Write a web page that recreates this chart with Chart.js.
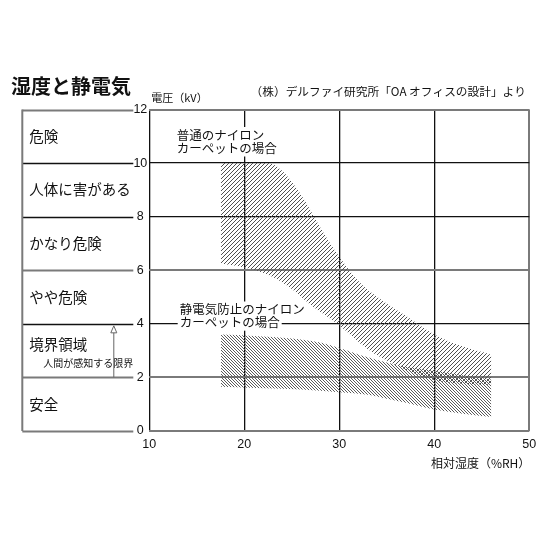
<!DOCTYPE html>
<html><head><meta charset="utf-8">
<script src="https://cdn.jsdelivr.net/npm/chart.js@4.4.1/dist/chart.umd.min.js"></script>
<style>html,body{margin:0;padding:0;background:#fff;}canvas{display:block;}</style>
</head><body>
<canvas id="c" width="553" height="553"></canvas>
<script>
// ---- data ----
const chartTitle = '湿度と静電気';
const sourceText = '（株）デルファイ研究所「OA オフィスの設計」より';
const yAxisTitle = '電圧（kV）';
const xAxisTitle = '相対湿度（%RH）';
const xTicks = [10, 20, 30, 40, 50];
const yTicks = [0, 2, 4, 6, 8, 10, 12];
const zoneBounds = [0, 2, 4, 6, 8, 10, 12];
const zoneLabels = ['安全', '境界領域', 'やや危険', 'かなり危険', '人体に害がある', '危険'];
const limitLabel = '人間が感知する限界';
const nylonLabel = ['普通のナイロン', 'カーペットの場合'];
const antiLabel = ['静電気防止のナイロン', 'カーペットの場合'];
// normal nylon band
const nylonTopX = [17.55, 22.5, 24, 26, 28, 30, 32, 34, 37, 40, 43, 46];
const nylonTopY = [10, 10, 9.7, 8.8, 7.6, 6.5, 5.6, 5.0, 4.3, 3.6, 3.15, 2.85];
const nylonBotX = [17.55, 20, 23, 25, 27, 30, 33, 36, 40, 43, 46];
const nylonBotY = [6.25, 6.1, 5.75, 5.3, 4.7, 3.95, 3.05, 2.45, 1.9, 1.76, 1.72];
// anti-static nylon band
const antiTopX = [17.55, 21, 25, 28, 30, 33, 37, 40, 43, 46];
const antiTopY = [3.6, 3.55, 3.45, 3.3, 3.1, 2.75, 2.4, 2.25, 2.08, 1.92];
const antiBotX = [17.55, 22, 26, 30, 33, 35, 37, 40, 43, 46];
const antiBotY = [1.65, 1.6, 1.55, 1.45, 1.35, 1.2, 1.05, 0.8, 0.64, 0.52];
const grayY = [0, 2, 6, 12];
const grayX = [50];

// ---- styles ----
const GRAY = '#7a7a7a', BLACK = '#111111';
const NUMFONT = '"Liberation Sans", Arial, "Noto Sans CJK JP", sans-serif';
const JPFONT = '"Noto Sans CJK JP", "Liberation Sans", sans-serif';

function makeHatch(n, dir, color) {
  const c = document.createElement('canvas');
  c.width = n; c.height = n;
  const g = c.getContext('2d');
  g.fillStyle = color;
  for (let i = 0; i < n; i++) {
    const y = dir === '/' ? n - 1 - i : i;
    g.fillRect(i, y, 1, 1);
  }
  return g.createPattern(c, 'repeat');
}
const patUp = makeHatch(4, '/', '#505050');
const patDown = makeHatch(3, '\\', '#5a5a5a');

const pts = (xs, ys) => xs.map((x, i) => ({ x, y: ys[i] }));
const band = (data, fill, bg) => ({
  data, fill, backgroundColor: bg, borderColor: 'rgba(0,0,0,0)', borderWidth: 0,
  pointRadius: 0, cubicInterpolationMode: 'monotone'
});

const decor = {
  id: 'decor',
  afterDraw(chart) {
    const g = chart.ctx, ys = chart.scales.y, xs = chart.scales.x, a = chart.chartArea;
    const panelL = a.left - 127, panelR = a.left - 16;
    g.save();
    // left panel lines
    yTicks.forEach(v => {
      const p = Math.round(ys.getPixelForValue(v)) + 0.5;
      const gray = grayY.includes(v);
      g.strokeStyle = gray ? GRAY : BLACK; g.lineWidth = gray ? 2 : 1.3;
      g.beginPath(); g.moveTo(panelL, p); g.lineTo(panelR, p); g.stroke();
    });
    g.strokeStyle = GRAY; g.lineWidth = 2;
    g.beginPath(); g.moveTo(panelL, ys.getPixelForValue(12)); g.lineTo(panelL, ys.getPixelForValue(0)); g.stroke();
    // zone labels
    g.fillStyle = BLACK; g.textBaseline = 'middle'; g.textAlign = 'left';
    g.font = '14.5px ' + JPFONT;
    zoneLabels.forEach((t, i) => {
      let y = ys.getPixelForValue((zoneBounds[i] + zoneBounds[i + 1]) / 2);
      if (i === 1) y -= 6;
      g.fillText(t, panelL + 7, y);
    });
    g.font = '10px ' + JPFONT;
    g.textAlign = 'right';
    g.fillText(limitLabel, panelR, ys.getPixelForValue(2) - 14);
    // arrow
    const ax = panelR - 19.5, ay0 = ys.getPixelForValue(2), ay1 = ys.getPixelForValue(4) + 2;
    g.strokeStyle = '#666'; g.lineWidth = 1;
    g.beginPath(); g.moveTo(ax, ay0); g.lineTo(ax, ay1 + 7); g.stroke();
    g.beginPath(); g.moveTo(ax, ay1); g.lineTo(ax - 3, ay1 + 7); g.lineTo(ax + 3, ay1 + 7); g.closePath();
    g.fillStyle = '#fff'; g.fill(); g.stroke();
    // titles
    g.fillStyle = BLACK; g.textAlign = 'left';
    g.font = 'bold 20px ' + JPFONT;
    g.fillText(chartTitle, 11, 86);
    g.font = '11px ' + JPFONT;
    g.fillText(yAxisTitle, a.left + 2, 98);
    g.font = '11.7px ' + JPFONT;
    g.textAlign = 'right';
    g.fillText(sourceText, 526, 92);
    g.font = '12px ' + JPFONT;
    g.fillText(xAxisTitle, a.right + 1, 463);
    // band annotations with white background
    const note = (lines, x, y0, dy) => {
      g.font = '12.5px ' + JPFONT; g.textAlign = 'left';
      lines.forEach((t, i) => {
        const w = g.measureText(t).width, y = y0 + i * dy;
        g.fillStyle = '#fff'; g.fillRect(x - 2, y - 8, w + 4, 16);
      });
      g.fillStyle = BLACK;
      lines.forEach((t, i) => g.fillText(t, x, y0 + i * dy));
    };
    note(nylonLabel, xs.getPixelForValue(12.9), 135, 13.5);
    note(antiLabel, xs.getPixelForValue(13.2), 309.5, 13.2);
    g.restore();
  }
};

new Chart(document.getElementById('c'), {
  type: 'line',
  data: {
    datasets: [
      band(pts(nylonTopX, nylonTopY), '+1', patUp),
      band(pts(nylonBotX, nylonBotY), false, 'transparent'),
      band(pts(antiTopX, antiTopY), '+1', patDown),
      band(pts(antiBotX, antiBotY), false, 'transparent')
    ]
  },
  options: {
    responsive: false, animation: false, devicePixelRatio: 1,
    layout: { padding: { left: 129.3, right: 23.7, top: 109.5, bottom: 102 } },
    plugins: { legend: { display: false }, tooltip: { enabled: false }, title: { display: false } },
    scales: {
      x: {
        type: 'linear', min: 10, max: 50,
        afterBuildTicks: s => { s.ticks = xTicks.map(v => ({ value: v })); },
        ticks: { padding: 6, maxRotation: 0, color: BLACK, font: { size: 12.5, family: NUMFONT } },
        grid: { drawTicks: false, color: c => grayX.includes(c.tick.value) ? GRAY : BLACK, lineWidth: c => grayX.includes(c.tick.value) ? 2 : 1.3 },
        border: { display: false },
        afterFit: s => { s.height = 20; }
      },
      y: {
        type: 'linear', min: 0, max: 12,
        afterBuildTicks: s => { s.ticks = yTicks.map(v => ({ value: v })); },
        ticks: { padding: 2, crossAlign: 'center', color: BLACK, font: { size: 12.5, family: NUMFONT } },
        grid: { drawTicks: false, color: c => grayY.includes(c.tick.value) ? GRAY : BLACK, lineWidth: c => grayY.includes(c.tick.value) ? 2 : 1.3 },
        border: { display: false },
        afterFit: s => { s.width = 20; }
      }
    }
  },
  plugins: [decor]
});
</script>
</body></html>
